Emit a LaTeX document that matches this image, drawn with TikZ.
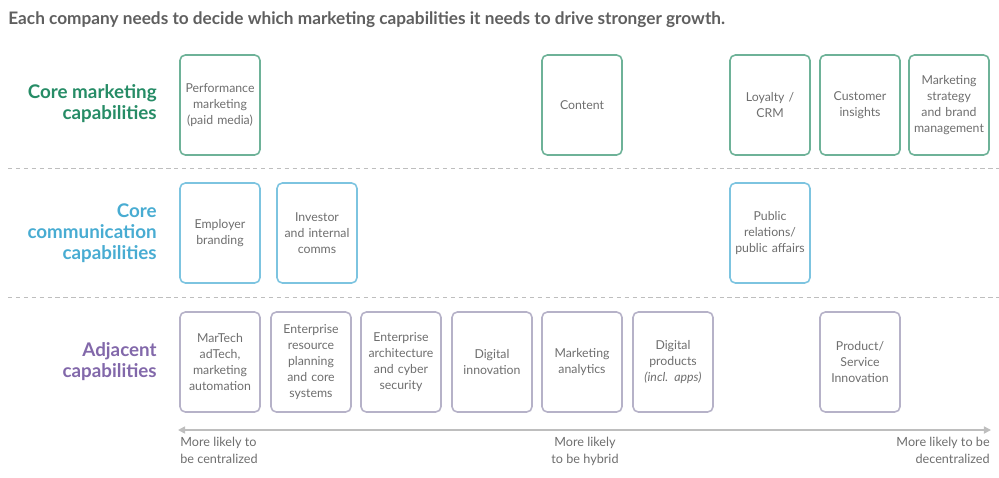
\documentclass[tikz,border=0pt]{standalone}
\usepackage{fontspec}
\setmainfont{Lato}
\usepackage{xcolor}
\usetikzlibrary{arrows.meta}
\definecolor{titlegray}{RGB}{95, 95, 95}
\definecolor{textgray}{RGB}{110, 110, 110}
\definecolor{coremkt}{RGB}{38, 140, 102}
\definecolor{corecom}{RGB}{72, 172, 210}
\definecolor{adjcap}{RGB}{130, 104, 170}
\definecolor{coremktline}{RGB}{110, 178, 152}
\definecolor{corecomline}{RGB}{125, 196, 224}
\definecolor{adjcapline}{RGB}{182, 178, 200}
\definecolor{sepline}{RGB}{190, 190, 190}

\tikzset{
  capbox/.style={draw, line width=0.9pt, rounded corners=3pt, minimum width=1.6cm,
    minimum height=2cm, text width=1.52cm, align=center, inner sep=0pt,
    font=\fontsize{7}{9}\selectfont, text=textgray},
  mktbox/.style={capbox, draw=coremktline},
  combox/.style={capbox, draw=corecomline},
  adjbox/.style={capbox, draw=adjcapline},
  rowlabel/.style={anchor=east, align=right, inner sep=0pt, font=\fontsize{10.7}{12}\selectfont\bfseries},
  axislabel/.style={font=\fontsize{7.2}{9.6}\selectfont, text=textgray},
  sep/.style={draw=sepline, line width=0.5pt, dash pattern=on 2.5pt off 2pt}
}

\begin{document}
\begin{tikzpicture}[x=0.02cm, y=-0.02cm]
			\useasboundingbox (0,0) rectangle (999,477);

			% title
			\node[anchor=west, inner sep=0pt, text=titlegray, font=\fontsize{9.8}{11}\selectfont\bfseries]
				(title) at (8,20) {Each company needs to decide which marketing capabilities it needs to drive stronger growth.};

			% row labels
			\node[rowlabel, text=coremkt] (lblmkt) at (157,104) {Core marketing\\capabilities};
			\node[rowlabel, text=corecom] (lblcom) at (157,233) {Core\\communication\\capabilities};
			\node[rowlabel, text=adjcap]  (lbladj) at (157,362) {Adjacent\\capabilities};

			% separators
			\coordinate (sepa) at (8,168);
			\coordinate (sepb) at (999,168);
			\coordinate (sepc) at (8,297);
			\coordinate (sepd) at (999,297);
			\draw[sep] (sepa) -- (sepb);
			\draw[sep] (sepc) -- (sepd);

			% Row 1: core marketing
			\node[mktbox] (perf)    at (220,105) {Performance\\marketing\\(paid media)};
			\node[mktbox] (content) at (582,105) {Content};
			\node[mktbox] (loyalty) at (770,105) {Loyalty /\\CRM};
			\node[mktbox] (insight) at (860,105) {Customer\\insights};
			\node[mktbox] (strat)   at (949,105) {Marketing\\strategy\\and brand\\management};

			% Row 2: core communication
			\node[combox] (employer) at (220,233) {Employer\\branding};
			\node[combox] (investor) at (317,233) {Investor\\and internal\\comms};
			\node[combox] (public)   at (770,233) {Public\\relations/\\public affairs};

			% Row 3: adjacent
			\node[adjbox] (martech)  at (220,362) {MarTech\\adTech,\\marketing\\automation};
			\node[adjbox] (erp)      at (311,362) {Enterprise\\resource\\planning\\and core\\systems};
			\node[adjbox] (entarch)  at (401,362) {Enterprise\\architecture\\and cyber\\security};
			\node[adjbox] (diginno)  at (492,362) {Digital\\innovation};
			\node[adjbox] (analytic) at (582,362) {Marketing\\analytics};
			\node[adjbox] (digprod)  at (673,362) {Digital\\products\\\textit{(incl. apps)}};
			\node[adjbox] (prodserv) at (860,362) {Product/\\Service\\Innovation};

			% axis
			\coordinate (axl) at (178,430);
			\coordinate (axr) at (991,430);
			\draw[sepline, line width=0.9pt, {Triangle[length=4pt,width=4pt]}-{Triangle[length=4pt,width=4pt]}] (axl) -- (axr);

			\node[axislabel, anchor=north west, align=left, inner sep=0pt] (central) at (180,437) {More likely to\\be centralized};
			\node[axislabel, anchor=north, align=center, inner sep=0pt] (hybrid) at (585,437) {More likely\\to be hybrid};
			\node[axislabel, anchor=north east, align=right, inner sep=0pt] (decentral) at (990,437) {More likely to be\\decentralized};

		\end{tikzpicture}
\end{document}
